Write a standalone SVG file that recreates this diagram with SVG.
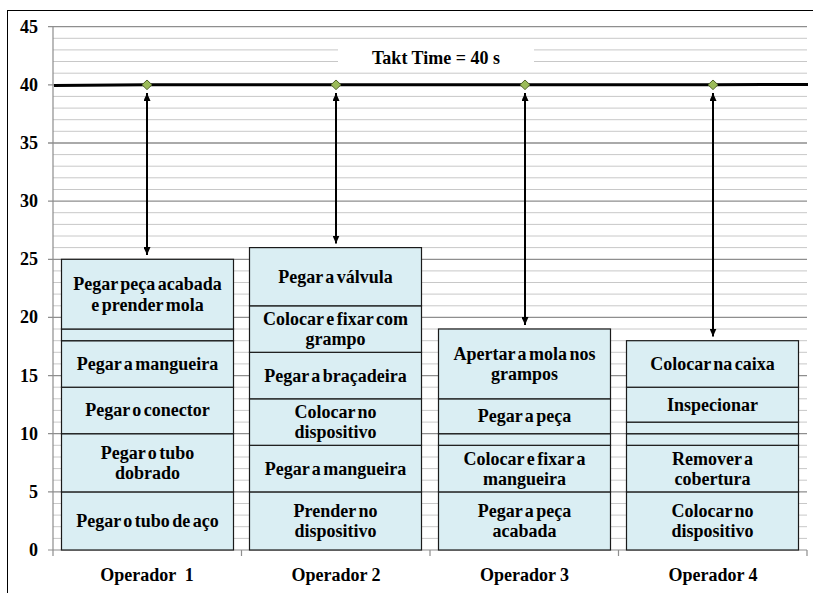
<svg xmlns="http://www.w3.org/2000/svg" width="813" height="593" viewBox="0 0 813 593">
  <style>
    .lbl { font-weight: bold; font-size: 18px; fill: #000; }
    .seg-t { text-anchor: middle; word-spacing: -2px; }
    .axis-t { text-anchor: end; }
    .cat-t { text-anchor: middle; }
    .seg { fill: #DAEEF3; stroke: #1a1a1a; stroke-width: 1.2; }
    .minor { stroke: #c8c8c8; stroke-width: 1; fill: none; }
    .major { stroke: #8e8e8e; stroke-width: 1.3; fill: none; }
    .axis { stroke: #8e8e8e; stroke-width: 1.2; fill: none; }
    .conn { stroke: #000; stroke-width: 2; fill: none; marker-start: url(#head); marker-end: url(#head); }
    .dot { fill: #9BBB59; stroke: #4F6228; stroke-width: 1; }
  </style>
  <defs>
    <marker id="head" viewBox="0 0 8 7" refX="8" refY="3.5" markerWidth="8" markerHeight="7" markerUnits="userSpaceOnUse" orient="auto-start-reverse">
      <path d="M0,0 L8,3.5 L0,7 Z" fill="#000"/>
    </marker>
  </defs>

  <rect x="0" y="0" width="813" height="593" fill="#fff"/>
  <!-- chart frame -->
  <rect x="7.5" y="10.5" width="840" height="620" fill="none" stroke="#000" stroke-width="1"/>

  <!-- gridlines: one per second, heavier every 5 s -->
  <g id="grid">
    <path class="minor" d="M53,538.4H807M53,526.7H807M53,515.1H807M53,503.5H807
      M53,480.2H807M53,468.6H807M53,457H807M53,445.3H807
      M53,422.1H807M53,410.4H807M53,398.8H807M53,387.2H807
      M53,363.9H807M53,352.3H807M53,340.7H807M53,329H807
      M53,305.8H807M53,294.1H807M53,282.5H807M53,270.9H807
      M53,247.6H807M53,236H807M53,224.4H807M53,212.7H807
      M53,189.5H807M53,177.8H807M53,166.2H807M53,154.6H807
      M53,131.3H807M53,119.7H807M53,108.1H807M53,96.4H807
      M53,73.2H807M53,61.5H807M53,49.9H807M53,38.3H807"/>
    <path class="major" d="M48,491.9H807M48,433.7H807M48,375.6H807M48,317.4H807
      M48,259.3H807M48,201.1H807M48,143H807M48,84.8H807M48,26.7H807"/>
  </g>

  <g font-family="Liberation Serif, serif">
  <!-- axes -->
  <g id="axes">
    <path class="axis" d="M53,26.7V550M48,550H807"/>
    <path class="axis" d="M53,550V556M241.5,550V556M430,550V556M618.5,550V556M807,550V556"/>
    <text class="lbl axis-t" x="38" y="556">0</text>
    <text class="lbl axis-t" x="38" y="497.9">5</text>
    <text class="lbl axis-t" x="38" y="439.7">10</text>
    <text class="lbl axis-t" x="38" y="381.6">15</text>
    <text class="lbl axis-t" x="38" y="323.4">20</text>
    <text class="lbl axis-t" x="38" y="265.3">25</text>
    <text class="lbl axis-t" x="38" y="207.1">30</text>
    <text class="lbl axis-t" x="38" y="149">35</text>
    <text class="lbl axis-t" x="38" y="90.8">40</text>
    <text class="lbl axis-t" x="38" y="32.7">45</text>
    <text class="lbl cat-t" x="147" y="581" xml:space="preserve">Operador  1</text>
    <text class="lbl cat-t" x="336" y="581">Operador 2</text>
    <text class="lbl cat-t" x="524.5" y="581">Operador 3</text>
    <text class="lbl cat-t" x="713" y="581">Operador 4</text>
  </g>

  <!-- takt time label -->
  <g id="takt-label">
    <rect x="338" y="41" width="196" height="30" fill="#fff"/>
    <text class="lbl" x="436" y="63.5" text-anchor="middle" font-size="19">Takt Time = 40 s</text>
  </g>

  <!-- operator 1 -->
  <g id="operador-1">
    <rect class="seg" x="61.5" y="491.9" width="172" height="58.1"/>
    <rect class="seg" x="61.5" y="433.7" width="172" height="58.2"/>
    <rect class="seg" x="61.5" y="387.2" width="172" height="46.5"/>
    <rect class="seg" x="61.5" y="340.7" width="172" height="46.5"/>
    <rect class="seg" x="61.5" y="329" width="172" height="11.7"/>
    <rect class="seg" x="61.5" y="259.3" width="172" height="69.7"/>
    <text class="lbl seg-t" x="147.5" y="527">Pegar o tubo de aço</text>
    <text class="lbl seg-t" x="147.5" y="458.8">Pegar o tubo</text>
    <text class="lbl seg-t" x="147.5" y="479">dobrado</text>
    <text class="lbl seg-t" x="147.5" y="416.4">Pegar o conector</text>
    <text class="lbl seg-t" x="147.5" y="369.9">Pegar a mangueira</text>
    <text class="lbl seg-t" x="147.5" y="290.3">Pegar peça acabada</text>
    <text class="lbl seg-t" x="147.5" y="310.5">e prender mola</text>
  </g>

  <!-- operator 2 -->
  <g id="operador-2">
    <rect class="seg" x="249.5" y="491.9" width="172" height="58.1"/>
    <rect class="seg" x="249.5" y="445.3" width="172" height="46.6"/>
    <rect class="seg" x="249.5" y="398.8" width="172" height="46.5"/>
    <rect class="seg" x="249.5" y="352.3" width="172" height="46.5"/>
    <rect class="seg" x="249.5" y="305.8" width="172" height="46.5"/>
    <rect class="seg" x="249.5" y="247.6" width="172" height="58.2"/>
    <text class="lbl seg-t" x="335.5" y="516.9">Prender no</text>
    <text class="lbl seg-t" x="335.5" y="537.1">dispositivo</text>
    <text class="lbl seg-t" x="335.5" y="474.6">Pegar a mangueira</text>
    <text class="lbl seg-t" x="335.5" y="418">Colocar no</text>
    <text class="lbl seg-t" x="335.5" y="438.2">dispositivo</text>
    <text class="lbl seg-t" x="335.5" y="381.5">Pegar a braçadeira</text>
    <text class="lbl seg-t" x="335.5" y="325">Colocar e fixar com</text>
    <text class="lbl seg-t" x="335.5" y="345.2">grampo</text>
    <text class="lbl seg-t" x="335.5" y="282.7">Pegar a válvula</text>
  </g>

  <!-- operator 3 -->
  <g id="operador-3">
    <rect class="seg" x="438.5" y="491.9" width="172" height="58.1"/>
    <rect class="seg" x="438.5" y="445.3" width="172" height="46.6"/>
    <rect class="seg" x="438.5" y="433.7" width="172" height="11.6"/>
    <rect class="seg" x="438.5" y="398.8" width="172" height="34.9"/>
    <rect class="seg" x="438.5" y="329" width="172" height="69.8"/>
    <text class="lbl seg-t" x="524.5" y="516.9">Pegar a peça</text>
    <text class="lbl seg-t" x="524.5" y="537.1">acabada</text>
    <text class="lbl seg-t" x="524.5" y="464.6">Colocar e fixar a</text>
    <text class="lbl seg-t" x="524.5" y="484.8">mangueira</text>
    <text class="lbl seg-t" x="524.5" y="422.3">Pegar a peça</text>
    <text class="lbl seg-t" x="524.5" y="359.9">Apertar a mola nos</text>
    <text class="lbl seg-t" x="524.5" y="380.1">grampos</text>
  </g>

  <!-- operator 4 -->
  <g id="operador-4">
    <rect class="seg" x="626.5" y="491.9" width="172" height="58.1"/>
    <rect class="seg" x="626.5" y="445.3" width="172" height="46.6"/>
    <rect class="seg" x="626.5" y="433.7" width="172" height="11.6"/>
    <rect class="seg" x="626.5" y="422.1" width="172" height="11.6"/>
    <rect class="seg" x="626.5" y="387.2" width="172" height="34.9"/>
    <rect class="seg" x="626.5" y="340.7" width="172" height="46.5"/>
    <text class="lbl seg-t" x="712.5" y="516.9">Colocar no</text>
    <text class="lbl seg-t" x="712.5" y="537.1">dispositivo</text>
    <text class="lbl seg-t" x="712.5" y="464.6">Remover a</text>
    <text class="lbl seg-t" x="712.5" y="484.8">cobertura</text>
    <text class="lbl seg-t" x="712.5" y="410.6">Inspecionar</text>
    <text class="lbl seg-t" x="712.5" y="369.9">Colocar na caixa</text>
  </g>
  </g>

  <!-- takt time line with markers -->
  <g id="takt-line">
    <polyline points="54,85.6 147,84.8 336,84.8 525,84.8 713,84.8 808,84.4" fill="none" stroke="#000" stroke-width="3"/>
    <polygon class="dot" points="147,80 152,84.8 147,89.6 142,84.8"/>
    <polygon class="dot" points="336,80 341,84.8 336,89.6 331,84.8"/>
    <polygon class="dot" points="525,80 530,84.8 525,89.6 520,84.8"/>
    <polygon class="dot" points="713,80 718,84.8 713,89.6 708,84.8"/>
  </g>

  <!-- gap arrows between takt time and each cycle time -->
  <g id="connectors">
    <line class="conn" x1="147" y1="93" x2="147" y2="255"/>
    <line class="conn" x1="336" y1="93" x2="336" y2="243.5"/>
    <line class="conn" x1="525" y1="93" x2="525" y2="325"/>
    <line class="conn" x1="713" y1="93" x2="713" y2="336.5"/>
  </g>
</svg>
